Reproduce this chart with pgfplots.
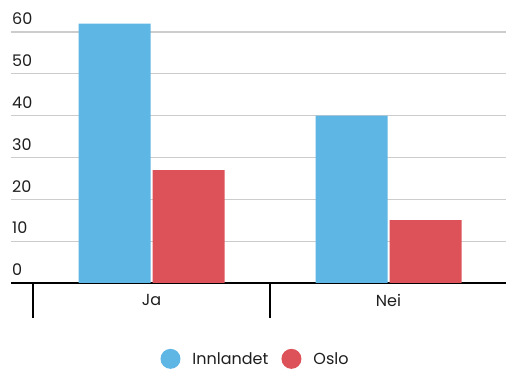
\documentclass[border=0pt]{standalone}
\usepackage{fontspec}
\setmainfont{Poppins}
\usepackage{pgfplots}
\pgfplotsset{compat=1.18}

\definecolor{innblue}{RGB}{94,182,229}
\definecolor{oslored}{RGB}{221,82,88}
\definecolor{gridgray}{RGB}{204,204,204}
\definecolor{labeltext}{RGB}{30,30,30}

\begin{document}
\begin{tikzpicture}
\begin{axis}[
  at={(11bp,86bp)}, anchor=south west,
  scale only axis,
  width=496bp, height=283bp,
  xmin=-0.593, xmax=1.5,
  ymin=0, ymax=67.65,
  ybar=2bp, bar width=72bp,
  axis x line*=bottom, axis y line*=left,
  x axis line style={line width=2.2bp, black, -},
  y axis line style={draw=none},
  xtick={0,1}, xticklabels={Ja,Nei},
  minor xtick={-0.5,0.5,1.5},
  xtick align=outside,
  major tick length=0pt, minor tick length=35bp,
  major x tick style={draw=none},
  minor x tick style={black, line width=1.3bp},
  ytick={0,10,...,60},
  ytick style={draw=none},
  ymajorgrids,
  major grid style={gridgray, line width=1.1bp},
  /pgf/number format/assume math mode=true,
  tick label style={font=\fontsize{16bp}{19bp}\selectfont, text=labeltext},
  yticklabel style={anchor=south west, inner sep=0pt, xshift=1bp, yshift=7bp},
  xticklabel style={anchor=north, inner sep=0pt, yshift=-11bp},
  legend columns=-1,
  legend style={
    at={(0.491,-0.268)}, anchor=center,
    draw=none, fill=none, inner sep=0pt,
    font=\fontsize{16bp}{19bp}\selectfont, text=labeltext,
    nodes={inner sep=0pt},
    /tikz/every odd column/.append style={column sep=12bp},
    /tikz/every even column/.append style={column sep=13bp},
  },
]
\addplot[fill=innblue, draw=none,
  legend image code/.code={\fill[innblue] (10bp,0bp) circle (10bp);}]
  coordinates {(0,62) (1,40)};
\addplot[fill=oslored, draw=none,
  legend image code/.code={\fill[oslored] (10bp,0bp) circle (10bp);}]
  coordinates {(0,27) (1,15)};
\legend{Innlandet, Oslo}
\end{axis}
\pgfresetboundingbox
\path[use as bounding box] (0,0) rectangle (506bp,369bp);
\end{tikzpicture}
\end{document}
